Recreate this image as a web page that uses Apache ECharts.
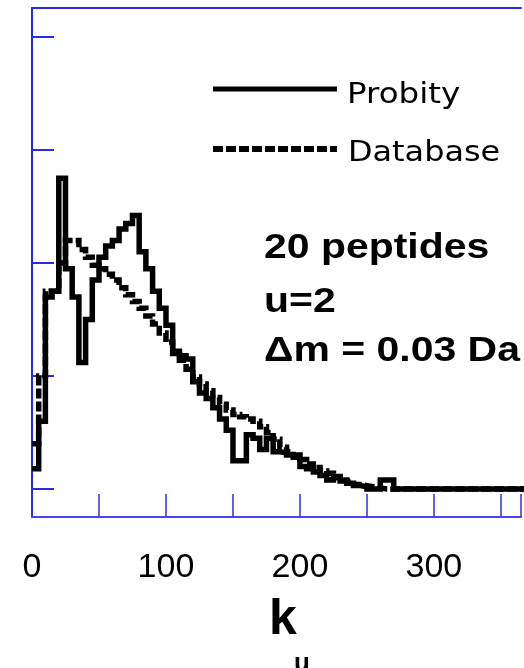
<!DOCTYPE html>
<html>
<head>
<meta charset="utf-8">
<script src="https://cdn.jsdelivr.net/npm/echarts@6/dist/echarts.min.js"></script>
<style>
  html, body { margin: 0; padding: 0; background: #fff; }
  #chart { width: 524px; height: 668px; }
</style>
</head>
<body>
<div id="chart"></div>
<script>
// Histogram of k_u, bins of width 5 (value = bin start)
const binStarts = [];
for (let k = 0; k <= 370; k += 5) binStarts.push(k);

// Probity (solid, jagged)
const probity = [
  0.18, 0.60, 1.70, 1.75, 2.75, 1.95, 1.70, 1.12, 1.50, 1.85,
  2.05, 2.15, 2.20, 2.30, 2.35, 2.42, 2.10, 1.95, 1.75, 1.60,
  1.45, 1.20, 1.18, 1.15, 0.95, 0.85, 0.80, 0.72, 0.62, 0.52,
  0.25, 0.25, 0.48, 0.45, 0.35, 0.45, 0.33, 0.32, 0.30, 0.28,
  0.20, 0.18, 0.15, 0.12, 0.08, 0.10, 0.07, 0.05, 0.03, 0.02,
  0.00, 0.00, 0.08, 0.08, 0.00
];

// Database (dashed, smooth)
const database = [
  0.40, 1.00, 1.75, 1.75, 2.00, 2.20, 2.20, 2.12, 2.05, 1.98,
  1.95, 1.90, 1.85, 1.78, 1.72, 1.66, 1.60, 1.53, 1.46, 1.38,
  1.30, 1.22, 1.14, 1.06, 0.99, 0.93, 0.87, 0.81, 0.75, 0.70,
  0.66, 0.64, 0.62, 0.60, 0.55, 0.50, 0.44, 0.37, 0.33, 0.30,
  0.26, 0.22, 0.19, 0.16, 0.14, 0.11, 0.08, 0.06, 0.04, 0.03,
  0.02, 0.01, 0.00, 0.00, 0.00
];

const xTicks = [0, 100, 200, 300];
const yTicks = [0, 1, 2, 3, 4];

// pair each bin start with its value; empty bins beyond the list are zero
function toSteps(vals) {
  return binStarts.map((k, i) => [k, i < vals.length ? vals[i] : 0]);
}

const BLUE = '#2a2ae2';
const chart = echarts.init(document.getElementById('chart'), null, { renderer: 'canvas' });

chart.setOption({
  animation: false,
  backgroundColor: '#ffffff',
  grid: { left: 32, right: 0, top: 8, bottom: 151, containLabel: false },
  xAxis: [
    {
      type: 'value', min: 0, max: 365, interval: 50,
      axisLine: { show: true, onZero: false, lineStyle: { color: '#4646ea', width: 2 } },
      axisTick: { show: true, inside: true, length: 23, lineStyle: { color: '#3030e4', width: 1.5 } },
      axisLabel: {
        show: true, margin: 34, color: '#000',
        fontFamily: 'Liberation Sans', fontSize: 34,
        formatter: v => (xTicks.indexOf(v) >= 0 ? String(v) : '')
      },
      splitLine: { show: false }
    },
    {
      type: 'value', position: 'top', min: 0, max: 365,
      axisLine: { show: true, onZero: false, lineStyle: { color: BLUE, width: 2 } },
      axisTick: { show: false }, axisLabel: { show: false }, splitLine: { show: false }
    }
  ],
  yAxis: {
    type: 'value', min: -0.248, max: 4.257,
    axisLine: { show: true, onZero: false, lineStyle: { color: BLUE, width: 2 } },
    axisTick: { show: true, inside: true, length: 22, customValues: yTicks, lineStyle: { color: BLUE, width: 2 } },
    axisLabel: { show: false },
    splitLine: { show: false }
  },
  series: [
    {
      name: 'Database', type: 'line', step: 'end', xAxisIndex: 0,
      data: toSteps(database), showSymbol: false, symbol: 'none',
      lineStyle: { color: '#000', width: 5.5, type: [10, 3], cap: 'butt', join: 'miter' },
      z: 3
    },
    {
      name: 'Probity', type: 'line', step: 'end', xAxisIndex: 0,
      data: toSteps(probity), showSymbol: false, symbol: 'none',
      lineStyle: { color: '#000', width: 5.5, type: 'solid', cap: 'butt', join: 'miter' },
      z: 4
    }
  ],
  graphic: [
    // key
    { type: 'line', shape: { x1: 213, y1: 89, x2: 337, y2: 89 }, style: { stroke: '#000', lineWidth: 5 } },
    { type: 'line', shape: { x1: 213, y1: 149, x2: 337, y2: 149 }, style: { stroke: '#000', lineWidth: 6, lineDash: [10, 3] } },
    { type: 'text', x: 347, y: 95, scaleX: 1.12, style: { text: 'Probity', fill: '#000', font: '29px "DejaVu Sans"', verticalAlign: 'middle' } },
    { type: 'text', x: 348, y: 153, scaleX: 1.1, style: { text: 'Database', fill: '#000', font: '29px "DejaVu Sans"', verticalAlign: 'middle' } },
    // annotation block
    { type: 'text', x: 264, y: 248, scaleX: 1.17, style: { text: '20 peptides', fill: '#000', font: 'bold 35px "Liberation Sans"', verticalAlign: 'middle' } },
    { type: 'text', x: 264, y: 302, scaleX: 1.17, style: { text: 'u=2', fill: '#000', font: 'bold 35px "Liberation Sans"', verticalAlign: 'middle' } },
    { type: 'text', x: 264, y: 351, scaleX: 1.17, style: { text: '\u0394m = 0.03 Da', fill: '#000', font: 'bold 35px "Liberation Sans"', verticalAlign: 'middle' } },
    // axis title k_u
    { type: 'text', x: 269, y: 620, style: { text: 'k', fill: '#000', font: 'bold 50px "Liberation Sans"', verticalAlign: 'middle' } },
    { type: 'text', x: 294, y: 664, style: { text: 'u', fill: '#000', font: 'bold 26px "Liberation Sans"', verticalAlign: 'middle' } }
  ]
});
</script>
</body>
</html>
